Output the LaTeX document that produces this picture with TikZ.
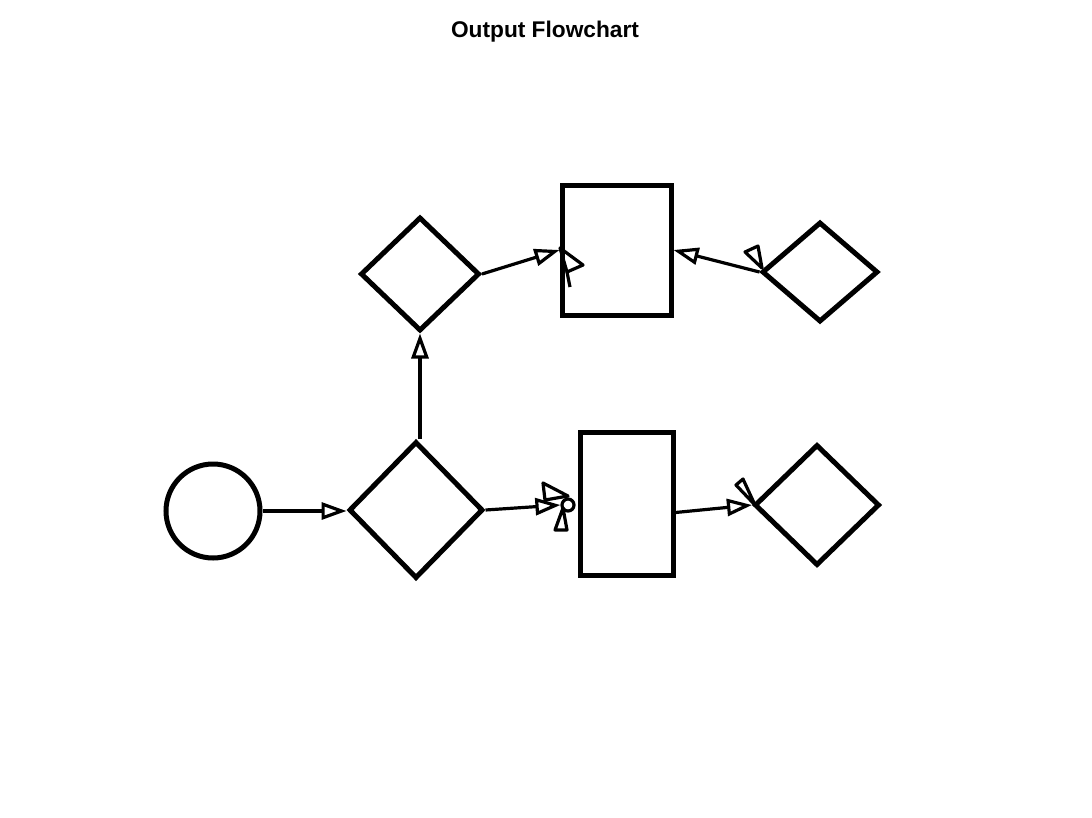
\documentclass[tikz,border=0pt]{standalone}
\usepackage{fontspec}
\setmainfont{Liberation Sans}
\usetikzlibrary{shapes.geometric}
\usetikzlibrary{arrows.meta}

\begin{document}
\begin{tikzpicture}[x=1pt, y=-1pt,
    shape line/.style={draw, line width=5pt, inner sep=0pt},
    decision/.style={shape line, diamond},
    block/.style={shape line, rectangle},
    flow/.style={line width=3.2pt, -{Triangle[open, length=25pt, width=17pt]}},
    stray/.style={line width=3.2pt, line join=round}]
        \useasboundingbox (0,0) rectangle (1092,817);
        \node[font=\bfseries\fontsize{22.7}{27}\selectfont] (title) at (545,32) {Output Flowchart};
        % shapes
        \node[shape line, circle, minimum size=94pt] (start) at (213,511) {};
        \node[decision, minimum width=134pt, minimum height=137pt] (split) at (416,510) {};
        \node[decision, minimum width=119pt, minimum height=114pt] (upper) at (420,274) {};
        \node[decision, minimum width=116pt, minimum height=100pt] (feed) at (820,272) {};
        \node[decision, minimum width=125pt, minimum height=121pt] (final) at (817,505) {};
        \node[block, minimum width=109pt, minimum height=130pt] (topbox) at (616.5,250) {};
        \node[block, minimum width=93pt, minimum height=143pt] (lowbox) at (626.5,503.5) {};
        \node[draw, circle, line width=3.2pt, minimum size=12pt, inner sep=0pt] (dot) at (568,505) {};
        % connectors
        \draw[flow] (start.east) -- (start.east -| split.west);
        \draw[flow] (split.north -| upper.south) -- (upper.south);
        \draw[flow] (upper.east) -- (topbox.west);
        \draw[flow] (feed.west) -- (topbox.east);
        \draw[flow] (split.east) -- (dot.west);
        \draw[flow] ([yshift=-9pt]lowbox.east) -- (final.west);
        % loose heads
        \draw[stray] (560,248) -- (583,265) -- (567,272) -- cycle;
        \draw[stray] (567,272) -- (570,287);
        \draw[stray] (745,252) -- (758,246) -- (762,268) -- cycle;
        \draw[stray] (543,483) -- (568,496) -- (545,500) -- cycle;
        \draw[stray] (555,530) -- (563,508) -- (567,530) -- cycle;
        \draw[stray] (736,485) -- (743,479) -- (755,505) -- cycle;
      \end{tikzpicture}
\end{document}
